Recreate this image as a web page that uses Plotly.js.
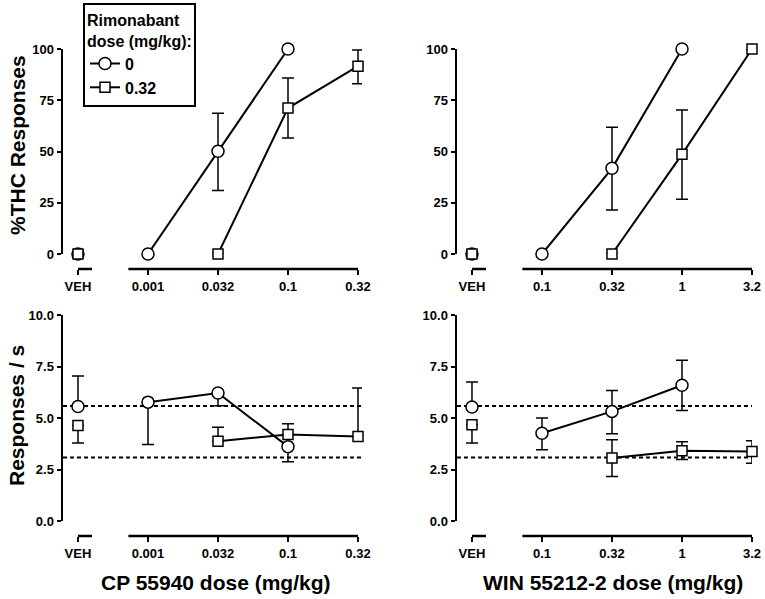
<!DOCTYPE html>
<html>
<head>
<meta charset="utf-8">
<script src="https://cdn.plot.ly/plotly-3.0.1.min.js"></script>
<style>html,body{margin:0;padding:0;background:#fff;}#chart{width:765px;height:599px;}</style>
</head>
<body>
<div id="chart"></div>
<script>
// ---------- categories / tick labels ----------
const cpLabels  = ['VEH', '0.001', '0.032', '0.1', '0.32'];
const winLabels = ['VEH', '0.1', '0.32', '1', '3.2'];

// ---------- top-left: CP 55940, %THC responses ----------
const cpThcVehY0 = [0];  const cpThcVehY32 = [0];
const cpThcX0 = ['0.001', '0.032', '0.1'];
const cpThcY0 = [0, 50.1, 100];
const cpThcErrUp0 = [0, 18.6, 0];
const cpThcErrDn0 = [0, 19.1, 0];
const cpThcX32 = ['0.032', '0.1', '0.32'];
const cpThcY32 = [0, 71.2, 91.6];
const cpThcErrUp32 = [0, 14.7, 7.9];
const cpThcErrDn32 = [0, 14.6, 8.6];

// ---------- top-right: WIN 55212-2, %THC responses ----------
const winThcVehY0 = [0]; const winThcVehY32 = [0];
const winThcX0 = ['0.1', '0.32', '1'];
const winThcY0 = [0, 41.8, 100];
const winThcErrUp0 = [0, 20.0, 0];
const winThcErrDn0 = [0, 20.3, 0];
const winThcX32 = ['0.32', '1', '3.2'];
const winThcY32 = [0, 48.6, 100];
const winThcErrUp32 = [0, 21.6, 0];
const winThcErrDn32 = [0, 21.9, 0];

// ---------- bottom-left: CP 55940, responses / s ----------
const cpRateVehY0 = [5.56]; const cpRateVehUp0 = [1.48]; const cpRateVehDn0 = [0];
const cpRateVehY32 = [4.63]; const cpRateVehUp32 = [0]; const cpRateVehDn32 = [0.84];
const cpRateX0 = ['0.001', '0.032', '0.1'];
const cpRateY0 = [5.77, 6.21, 3.61];
const cpRateErrUp0 = [0, 0, 0];
const cpRateErrDn0 = [2.06, 0.61, 0.73];
const cpRateX32 = ['0.032', '0.1', '0.32'];
const cpRateY32 = [3.87, 4.20, 4.10];
const cpRateErrUp32 = [0.68, 0.52, 2.36];
const cpRateErrDn32 = [0, 0, 0];

// ---------- bottom-right: WIN 55212-2, responses / s ----------
const winRateVehY0 = [5.53]; const winRateVehUp0 = [1.22]; const winRateVehDn0 = [0];
const winRateVehY32 = [4.67]; const winRateVehUp32 = [0]; const winRateVehDn32 = [0.88];
const winRateX0 = ['0.1', '0.32', '1'];
const winRateY0 = [4.26, 5.32, 6.59];
const winRateErrUp0 = [0.74, 1.02, 1.21];
const winRateErrDn0 = [0.80, 1.08, 1.22];
const winRateX32 = ['0.32', '1', '3.2'];
const winRateY32 = [3.06, 3.41, 3.37];
const winRateErrUp32 = [0.89, 0.44, 0.53];
const winRateErrDn32 = [0.90, 0.43, 0.57];

// control (vehicle) reference range, responses / s
const rateRefLines = [5.58, 3.08];

// tick values
const thcTicks = [0, 25, 50, 75, 100];
const rateTicks = [0, 2.5, 5, 7.5, 10];
const rateTickText = ['0.0', '2.5', '5.0', '7.5', '10.0'];

// ---------- styling ----------
const FONT = 'Liberation Sans, Arial, Helvetica, sans-serif';
const W = 765, H = 599;
const px = v => v / W;
const py = v => 1 - v / H;

function mk(xa, ya, x, y, up, dn, symbol, name, showlegend, mode) {
  return {
    type: 'scatter', mode: mode, x: x, y: y, xaxis: xa, yaxis: ya,
    name: name, showlegend: showlegend, legendgroup: name, cliponaxis: false,
    line: {color: 'black', width: 2},
    marker: {symbol: symbol, size: symbol === 'circle' ? 12 : 10, color: 'white',
             line: {color: 'black', width: 1.5}},
    error_y: {type: 'data', symmetric: false, array: up, arrayminus: dn,
              color: 'black', thickness: 1.5, width: 6, visible: true},
    hoverinfo: 'x+y'
  };
}

const traces = [
  // top-left
  mk('x', 'y', ['VEH'], cpThcVehY0, [0], [0], 'circle', '0', false, 'markers'),
  mk('x', 'y', ['VEH'], cpThcVehY32, [0], [0], 'square', '0.32', false, 'markers'),
  mk('x', 'y', cpThcX0, cpThcY0, cpThcErrUp0, cpThcErrDn0, 'circle', '0', true, 'lines+markers'),
  mk('x', 'y', cpThcX32, cpThcY32, cpThcErrUp32, cpThcErrDn32, 'square', '0.32', true, 'lines+markers'),
  // top-right
  mk('x2', 'y2', ['VEH'], winThcVehY0, [0], [0], 'circle', '0', false, 'markers'),
  mk('x2', 'y2', ['VEH'], winThcVehY32, [0], [0], 'square', '0.32', false, 'markers'),
  mk('x2', 'y2', winThcX0, winThcY0, winThcErrUp0, winThcErrDn0, 'circle', '0', false, 'lines+markers'),
  mk('x2', 'y2', winThcX32, winThcY32, winThcErrUp32, winThcErrDn32, 'square', '0.32', false, 'lines+markers'),
  // bottom-left
  mk('x3', 'y3', ['VEH'], cpRateVehY0, cpRateVehUp0, cpRateVehDn0, 'circle', '0', false, 'markers'),
  mk('x3', 'y3', ['VEH'], cpRateVehY32, cpRateVehUp32, cpRateVehDn32, 'square', '0.32', false, 'markers'),
  mk('x3', 'y3', cpRateX32, cpRateY32, cpRateErrUp32, cpRateErrDn32, 'square', '0.32', false, 'lines+markers'),
  mk('x3', 'y3', cpRateX0, cpRateY0, cpRateErrUp0, cpRateErrDn0, 'circle', '0', false, 'lines+markers'),
  // bottom-right
  mk('x4', 'y4', ['VEH'], winRateVehY0, winRateVehUp0, winRateVehDn0, 'circle', '0', false, 'markers'),
  mk('x4', 'y4', ['VEH'], winRateVehY32, winRateVehUp32, winRateVehDn32, 'square', '0.32', false, 'markers'),
  mk('x4', 'y4', winRateX32, winRateY32, winRateErrUp32, winRateErrDn32, 'square', '0.32', false, 'lines+markers'),
  mk('x4', 'y4', winRateX0, winRateY0, winRateErrUp0, winRateErrDn0, 'circle', '0', false, 'lines+markers')
];

const tickFont = {family: FONT, size: 13, color: 'black', weight: 'bold'};

function xAxis(dom, pos, range, cats) {
  return {
    type: 'category', categoryorder: 'array', categoryarray: cats,
    tickvals: cats, ticktext: cats,
    domain: dom, anchor: 'free', position: pos, range: range,
    showgrid: false, zeroline: false, showline: false,
    ticks: 'outside', ticklen: 5, tickwidth: 2, tickcolor: 'black',
    tickfont: tickFont, fixedrange: true
  };
}
function yAxis(dom, anchor, range, tv, tt) {
  return {
    domain: dom, anchor: anchor, range: range,
    tickvals: tv, ticktext: tt,
    showgrid: false, zeroline: false, showline: true, linewidth: 2.5, linecolor: 'black',
    ticks: 'outside', ticklen: 4, tickwidth: 2, tickcolor: 'black',
    tickfont: tickFont, fixedrange: true
  };
}

const topDom = [py(254), py(49)];
const botDom = [py(521), py(315)];
const leftDom = [px(63), px(362)];
const rightDom = [px(457), px(752)];
const topAxisPos = py(269);
const botAxisPos = py(536);

// axis-line segments (broken x axis: VEH stub + dose range)
const shapes = [];
[['x', topAxisPos], ['x2', topAxisPos], ['x3', botAxisPos], ['x4', botAxisPos]].forEach(([xa, p]) => {
  shapes.push({type: 'line', xref: xa, yref: 'paper', x0: 0, x1: 0.2, y0: p, y1: p,
               line: {color: 'black', width: 2.5}});
  shapes.push({type: 'line', xref: xa, yref: 'paper', x0: 0.72, x1: 4, y0: p, y1: p,
               line: {color: 'black', width: 2.5}});
});
['3', '4'].forEach(k => {
  rateRefLines.forEach(v => {
    shapes.push({type: 'line', xref: 'x' + k + ' domain', yref: 'y' + k, x0: 0, x1: 1, y0: v, y1: v,
                 layer: 'below', line: {color: 'black', width: 2, dash: '4px,3px'}});
  });
});

const titleFont = {family: FONT, size: 21, color: 'black', weight: 'bold'};
const annotations = [
  {text: '%THC Responses', xref: 'paper', yref: 'paper', x: px(17), y: py(145), textangle: -90,
   showarrow: false, font: titleFont, xanchor: 'center', yanchor: 'middle'},
  {text: 'Responses / s', xref: 'paper', yref: 'paper', x: px(16), y: py(416), textangle: -90,
   showarrow: false, font: titleFont, xanchor: 'center', yanchor: 'middle'},
  {text: 'CP 55940 dose (mg/kg)', xref: 'paper', yref: 'paper', x: px(216), y: py(582),
   showarrow: false, font: titleFont, xanchor: 'center', yanchor: 'middle'},
  {text: 'WIN 55212-2 dose (mg/kg)', xref: 'paper', yref: 'paper', x: px(613), y: py(582),
   showarrow: false, font: titleFont, xanchor: 'center', yanchor: 'middle'}
];

const layout = {
  width: W, height: H, autosize: false,
  margin: {l: 0, r: 0, t: 0, b: 0, pad: 0},
  paper_bgcolor: 'white', plot_bgcolor: 'white',
  font: {family: FONT, color: 'black'},
  showlegend: true,
  legend: {
    x: px(83), y: py(3), xanchor: 'left', yanchor: 'top',
    bgcolor: 'white', bordercolor: 'black', borderwidth: 2,
    font: {family: FONT, size: 16, color: 'black', weight: 'bold'},
    title: {text: 'Rimonabant<br>dose (mg/kg):', side: 'top',
            font: {family: FONT, size: 16, color: 'black', weight: 'bold'}},
    tracegroupgap: 0, itemclick: false, itemdoubleclick: false
  },
  xaxis: xAxis(leftDom, topAxisPos, [-0.214, 4.057], cpLabels),
  yaxis: yAxis(topDom, 'x', [0, 100], thcTicks, thcTicks.map(String)),
  xaxis2: xAxis(rightDom, topAxisPos, [-0.214, 4.0], winLabels),
  yaxis2: yAxis(topDom, 'x2', [0, 100], thcTicks, thcTicks.map(String)),
  xaxis3: xAxis(leftDom, botAxisPos, [-0.214, 4.057], cpLabels),
  yaxis3: yAxis(botDom, 'x3', [0, 10], rateTicks, rateTickText),
  xaxis4: xAxis(rightDom, botAxisPos, [-0.214, 4.0], winLabels),
  yaxis4: yAxis(botDom, 'x4', [0, 10], rateTicks, rateTickText),
  shapes: shapes,
  annotations: annotations
};

Plotly.newPlot('chart', traces, layout, {displayModeBar: false, staticPlot: true});
</script>
</body>
</html>
